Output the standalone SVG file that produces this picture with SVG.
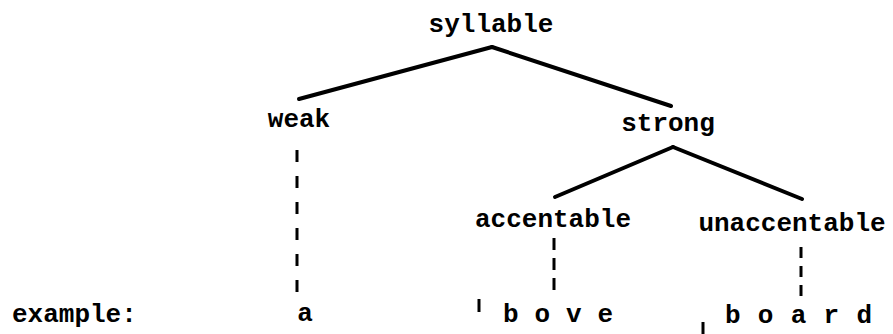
<svg xmlns="http://www.w3.org/2000/svg" width="893" height="334" viewBox="0 0 893 334">
  <style>
    .lbl { font-family: "Liberation Mono", "Courier New", monospace; font-weight: bold; font-size: 26px; fill: #000; }
    .mid { text-anchor: middle; }
    .edge { stroke: #000; stroke-width: 4; stroke-linecap: round; fill: none; }
    .dash { stroke: #000; stroke-width: 3; fill: none; }
  </style>
  <rect width="893" height="334" fill="#fff"/>

  <!-- tree nodes -->
  <g id="syllable"><text class="lbl mid" x="491" y="32">syllable</text></g>
  <g id="weak"><text class="lbl mid" x="299" y="127">weak</text></g>
  <g id="strong"><text class="lbl mid" x="668" y="131">strong</text></g>
  <g id="accentable"><text class="lbl mid" x="553" y="227">accentable</text></g>
  <g id="unaccentable"><text class="lbl mid" x="792" y="231">unaccentable</text></g>

  <!-- example row -->
  <g id="example"><text class="lbl" x="12" y="322">example:</text></g>
  <g id="ex-a"><text class="lbl mid" x="305" y="321">a</text></g>
  <g id="ex-bove"><text class="lbl" x="503" y="322" textLength="110">b o v e</text></g>
  <g id="ex-board"><text class="lbl" x="725" y="323" textLength="147">b o a r d</text></g>

  <!-- connectors -->
  <g id="connectors">
    <line class="edge" x1="492" y1="47" x2="299" y2="99"/>
    <line class="edge" x1="492" y1="47" x2="671" y2="106"/>
    <line class="edge" x1="673" y1="147" x2="555" y2="197"/>
    <line class="edge" x1="673" y1="147" x2="802" y2="199"/>

    <line class="dash" x1="297" y1="150" x2="297" y2="294" stroke-dasharray="12 14"/>
    <line class="dash" x1="554" y1="238" x2="554" y2="290" stroke-dasharray="12 8"/>
    <line class="dash" x1="801" y1="247" x2="801" y2="300" stroke-dasharray="11 8"/>

    <line class="dash" x1="479" y1="299" x2="479" y2="312"/>
    <line class="dash" x1="703" y1="322" x2="703" y2="334"/>
  </g>
</svg>
